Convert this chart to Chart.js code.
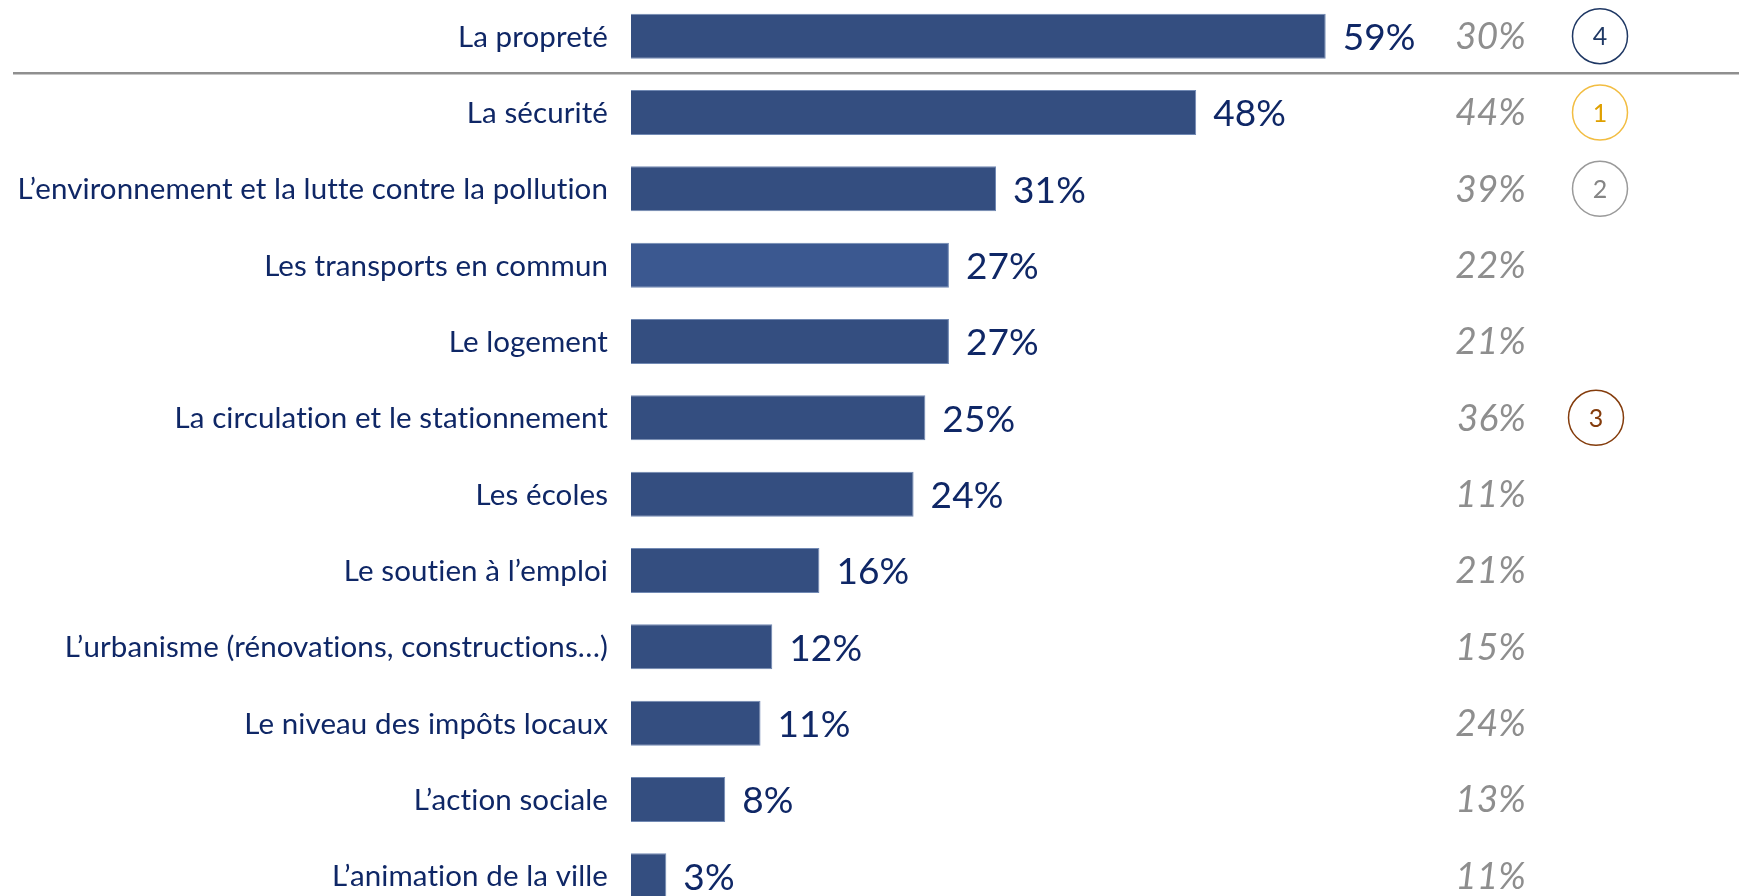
<!DOCTYPE html>
<html>
<head>
<meta charset="utf-8">
<script src="https://cdn.jsdelivr.net/npm/chart.js@4.4.1/dist/chart.umd.min.js"></script>
<style>
  html, body { margin: 0; padding: 0; background: #ffffff; overflow: hidden; width: 1739px; height: 896px; }
  #wrap { position: absolute; left: 0; top: -2px; width: 1739px; height: 916px; }
</style>
</head>
<body>
<div id="wrap"><canvas id="c" width="1739" height="916"></canvas></div>
<script>
const categories = [
  "La propreté",
  "La sécurité",
  "L’environnement et la lutte contre la pollution",
  "Les transports en commun",
  "Le logement",
  "La circulation et le stationnement",
  "Les écoles",
  "Le soutien à l’emploi",
  "L’urbanisme (rénovations, constructions…)",
  "Le niveau des impôts locaux",
  "L’action sociale",
  "L’animation de la ville"
];
const values = [59, 48, 31, 27, 27, 25, 24, 16, 12, 11, 8, 3];
const previousValues = [30, 44, 39, 22, 21, 36, 11, 21, 15, 24, 13, 11];
const ranks = ["4", "1", "2", "", "", "3", "", "", "", "", "", ""];
const rankColors = ["#1f3864", "#f2bd42", "#9a9a9a", "", "", "#843c0c", "", "", "", "", "", ""];
const rankTextColors = ["#1f3864", "#dfa000", "#858585", "", "", "#843c0c", "", "", "", "", "", ""];
const barColors = values.map((v, i) => i === 3 ? "#3b5890" : "#344e80");

const FONT = "Lato, 'Open Sans', sans-serif";

const overlay = {
  id: "overlay",
  afterDatasetsDraw(chart) {
    const ctx = chart.ctx;
    const x = chart.scales.x, y = chart.scales.y;
    ctx.save();
    if ("letterSpacing" in ctx) ctx.letterSpacing = "0.1px";
    ctx.textBaseline = "middle";
    // category labels
    ctx.font = "29.5px " + FONT;
    ctx.fillStyle = "#0f2766";
    ctx.textAlign = "right";
    categories.forEach((c, i) => {
      ctx.fillText(c, x.getPixelForValue(0) - 23, y.getPixelForValue(i) + 1);
    });
    // value labels
    ctx.font = "37px " + FONT;
    ctx.fillStyle = "#0f2766";
    ctx.textAlign = "left";
    values.forEach((v, i) => {
      ctx.fillText(v + "%", x.getPixelForValue(v) + 17, y.getPixelForValue(i) + 2);
    });
    // previous values (grey italic)
    ctx.font = "italic 37px " + FONT;
    ctx.fillStyle = "#8e8e8e";
    ctx.textAlign = "right";
    previousValues.forEach((v, i) => {
      ctx.fillText(v + "%", 1526, y.getPixelForValue(i) + 1);
    });
    // rank circles
    ranks.forEach((r, i) => {
      if (!r) return;
      const cy = y.getPixelForValue(i);
      const cx = i === 5 ? 1596 : 1600;
      ctx.beginPath();
      ctx.arc(cx, cy, 27.5, 0, Math.PI * 2);
      ctx.lineWidth = 1.5;
      ctx.strokeStyle = rankColors[i];
      ctx.stroke();
      ctx.font = "25px " + FONT;
      ctx.fillStyle = rankTextColors[i];
      ctx.textAlign = "center";
      ctx.fillText(r, cx, cy + 1);
    });
    // separator line between first and second rows
    const sepY = (y.getPixelForValue(0) + y.getPixelForValue(1)) / 2 - 1;
    ctx.beginPath();
    ctx.moveTo(13, sepY);
    ctx.lineTo(1739, sepY);
    ctx.lineWidth = 2.5;
    ctx.strokeStyle = "#8f8f8f";
    ctx.stroke();
    ctx.restore();
  }
};

new Chart(document.getElementById("c"), {
  type: "bar",
  data: {
    labels: categories,
    datasets: [{
      data: values,
      backgroundColor: barColors,
      borderColor: "#7189b3",
      borderWidth: 1,
      barPercentage: 0.59,
      categoryPercentage: 1
    }]
  },
  options: {
    indexAxis: "y",
    responsive: false,
    devicePixelRatio: 1,
    animation: false,
    layout: { padding: 0 },
    plugins: { legend: { display: false }, tooltip: { enabled: false } },
    scales: {
      x: {
        display: false,
        min: 0,
        max: 94.1
      },
      y: {
        afterFit(scale) { scale.width = 631; },
        grid: { display: false, drawTicks: false },
        border: { display: false },
        ticks: { display: false }
      }
    }
  },
  plugins: [overlay]
});
</script>
</body>
</html>
